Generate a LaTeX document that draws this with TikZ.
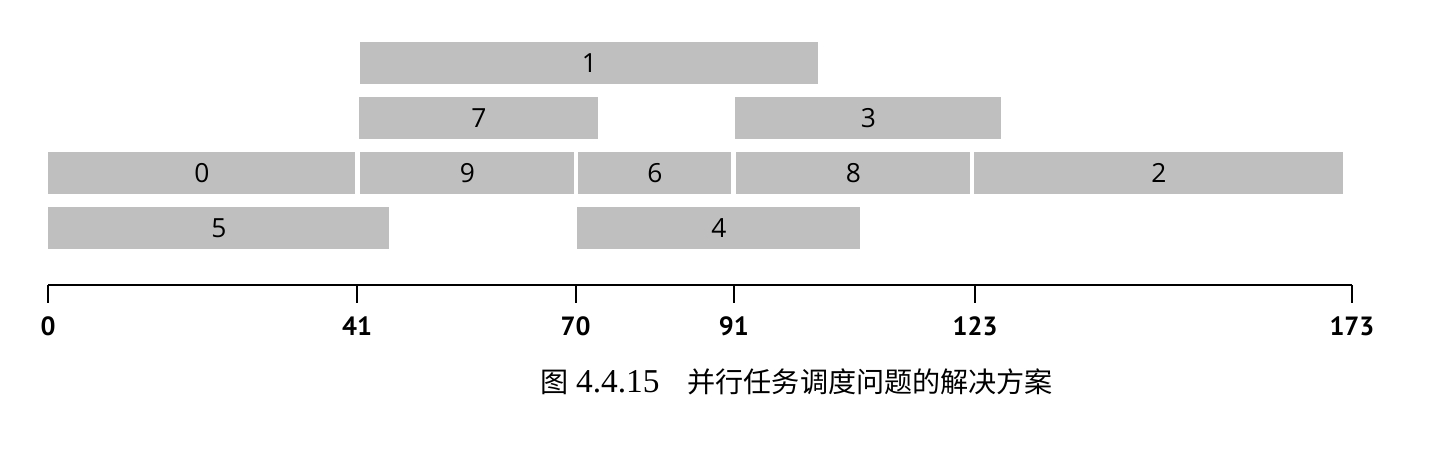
\documentclass[tikz,border=0pt]{standalone}
\usepackage{fontspec}
\setmainfont{Liberation Serif}
\newfontfamily\barfont{Open Sans}
\newfontfamily\axisfont{PT Sans}
\newfontfamily\cjk{Noto Sans CJK SC}
\usetikzlibrary{positioning}

\tikzset{
    job/.style={fill=black!25, minimum height=0.84cm, inner sep=0pt, anchor=west,
        font=\barfont\fontsize{15}{15}\selectfont},
    axisline/.style={line width=1.1pt},
    ticklabel/.style={font=\axisfont\bfseries\fontsize{15}{15}\selectfont}
}

\begin{document}
\begin{tikzpicture}[x=0.02cm, y=-0.02cm]
        \useasboundingbox (0,0) rectangle (1430,449);

        % first row
        \node[job, minimum width=9.16cm](j1) at (360,63){1};

        % second row
        \node[job, minimum width=4.78cm](j7) at (359,118){7};
        \node[job, minimum width=5.32cm](j3) at (735,118){3};

        % third row
        \node[job, minimum width=6.14cm](j0) at (48,173){0};
        \node[job, minimum width=4.28cm](j9) at (360,173){9};
        \node[job, minimum width=3.06cm](j6) at (578,173){6};
        \node[job, minimum width=4.68cm](j8) at (736,173){8};
        \node[job, minimum width=7.38cm](j2) at (974,173){2};

        % fourth row
        \node[job, minimum width=6.82cm](j5) at (48,228){5};
        \node[job, minimum width=5.66cm](j4) at (577,228){4};

        % time axis
        \coordinate(a0) at (48,285);
        \coordinate(a173) at (1352,285);
        \draw[axisline](a0) -- (a173);
        \foreach \v in {0,41,70,91,123,173}{
            \coordinate(t\v) at (48+\v*7.537,285);
            \coordinate(b\v) at (48+\v*7.537,303);
            \draw[axisline](t\v) -- (b\v);
            \node[ticklabel](l\v) at (48+\v*7.537,326){\v};
        }

        \node[font=\fontsize{16}{19}\selectfont](caption) at (797,382)
            {{\cjk 图} {\fontsize{19}{19}\selectfont 4.4.15}\hspace{1em}{\cjk 并行任务调度问题的解决方案}};
    \end{tikzpicture}
\end{document}
